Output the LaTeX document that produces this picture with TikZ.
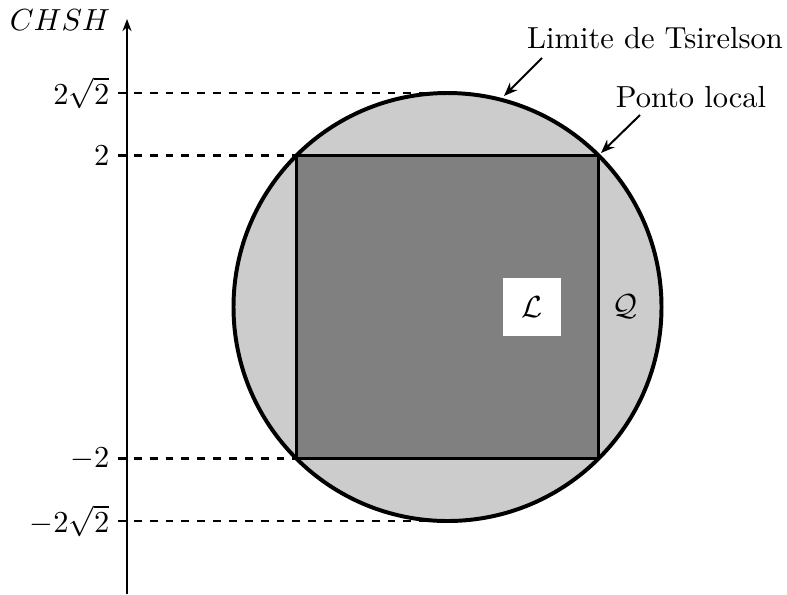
\documentclass[tikz,border=0pt]{standalone}
\usetikzlibrary{arrows.meta}
\begin{document}
\begin{tikzpicture}[x=0.328pt,y=0.328pt,
  lbl/.style={inner sep=0pt, font=\fontsize{10}{12}\selectfont},
  dashline/.style={dash pattern=on 2.6pt off 2.6pt, line width=0.7pt},
  pointer/.style={-{Stealth[length=4.5pt,width=3.5pt]}, line width=0.65pt},
  axisline/.style={-{Stealth[length=4pt,width=3pt]}, thin}]
\useasboundingbox (0,0) rectangle (787,594);
% centre and reference points
\coordinate (C) at (447.5,287);
\coordinate (axB) at (127,0);
\coordinate (axT) at (127,575);
\coordinate (sqSW) at (296.5,135.5);
\coordinate (sqNE) at (598.5,438.5);
\coordinate (sqNW) at (296.5,438.5);
\coordinate (top) at (447.5,501);
\coordinate (bot) at (447.5,73);
\coordinate (t1) at (118,501);
\coordinate (t2) at (118,438.5);
\coordinate (t3) at (118,135.5);
\coordinate (t4) at (118,73);
% circle fill
\fill[black!20] (C) circle (214);
% dashed levels
\draw[dashline] (t1) -- (top);
\draw[dashline] (t2) -- (sqNW);
\draw[dashline] (t3) -- (sqSW);
\draw[dashline] (t4) -- (bot);
% circle outline
\draw[line width=1.3pt] (C) circle (214);
% square
\draw[fill=black!50, line width=1pt] (sqSW) rectangle (sqNE);
% axis
\draw[axisline] (axB) -- (axT);
% tick labels
\node[lbl, anchor=east] (l1) at (110,501) {$2\sqrt{2}$};
\node[lbl, anchor=east] (l2) at (110,438.5) {$2$};
\node[lbl, anchor=east] (l3) at (110,135.5) {$-2$};
\node[lbl, anchor=east] (l4) at (110,73) {$-2\sqrt{2}$};
\node[lbl] (chsh) at (60,574) {$CHSH$};
% region labels
\node[fill=white, minimum size=19pt, inner sep=0pt] (L) at (532,287) {$\mathcal{L}$};
\node[lbl] (Q) at (625,287) {$\mathcal{Q}$};
% annotations
\node[lbl] (ts) at (655,556) {Limite de Tsirelson};
\node[lbl] (pl) at (691,497) {Ponto local};
\coordinate (tsTail) at (542,536);
\coordinate (tsTip) at (504,498);
\coordinate (plTail) at (640,479);
\coordinate (plTip) at (601,441);
\draw[pointer] (tsTail) -- (tsTip);
\draw[pointer] (plTail) -- (plTip);
\end{tikzpicture}
\end{document}
